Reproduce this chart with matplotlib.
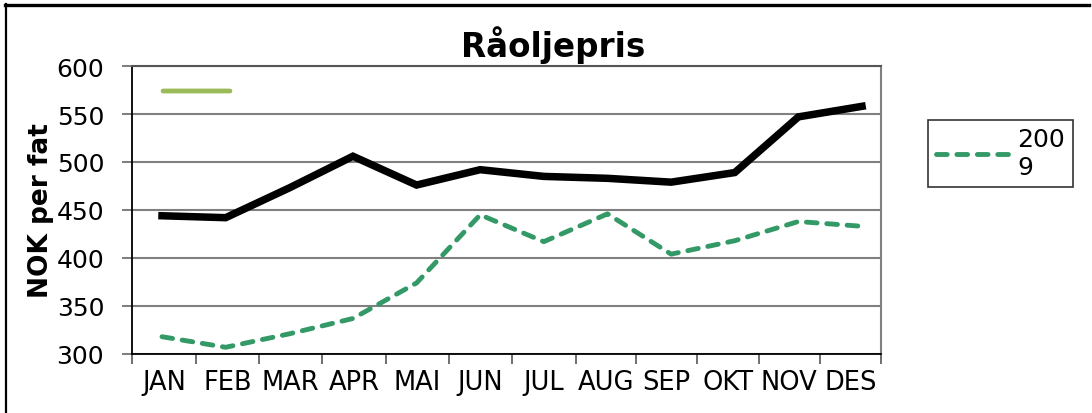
import matplotlib
matplotlib.use("Agg")
import matplotlib.pyplot as plt
from matplotlib.lines import Line2D
import numpy as np

months = ["JAN", "FEB", "MAR", "APR", "MAI", "JUN",
          "JUL", "AUG", "SEP", "OKT", "NOV", "DES"]
pris_2010 = [444, 442, 473, 506, 476, 492, 485, 483, 479, 489, 547, 558]
pris_2009 = [318, 307, 321, 337, 374, 445, 417, 446, 404, 418, 438, 433]

W, H = 1092, 414
fig = plt.figure(figsize=(W / 100, H / 100), dpi=100)
fig.patch.set_facecolor("white")

# plot area in pixels: left 132, right 881, top 67, bottom 355
left, right = 132, 881
ax = fig.add_axes([left / W, 1 - 355 / H, (right - left) / W, (355 - 67) / H])

# month points sit at i + 0.5; the category edges (tick marks) are
# spaced a little unevenly, so they are given in pixels
step, first = 63.64, 162.0
to_data = lambda px: (np.asarray(px) - first) / step + 0.5
edges = to_data([132, 195.7, 259, 322.3, 385.7, 449, 512.3, 575.7,
                 636, 697, 758.7, 819.7, 880.7])

x = np.arange(len(months)) + 0.5
ax.plot(x, pris_2010, color="black", lw=5.4, solid_joinstyle="miter", zorder=3)
line09, = ax.plot(x, pris_2009, color="#339966", lw=3.5, ls=(0, (2.2, 2.0)),
                  dash_capstyle="round", zorder=3)

ax.set_xlim(to_data(left), to_data(right))
ax.set_ylim(300, 600)
ax.set_yticks(np.arange(300, 601, 50))
ax.set_xticks(edges)
ax.set_xticklabels([])
ax.set_xticks((edges[:-1] + edges[1:]) / 2, minor=True)
ax.set_xticklabels(months, minor=True)
ax.tick_params(axis="x", which="minor", length=0, pad=11, labelsize=18.5)
ax.tick_params(axis="x", which="major", length=7, width=1.2, color="#555555")
ax.tick_params(axis="y", length=7, width=1.2, color="#666666", pad=13, labelsize=18)

ax.grid(axis="y", color="#808080", lw=1.5, zorder=0)
ax.spines["left"].set_color("black")
ax.spines["left"].set_linewidth(1.3)
ax.spines["bottom"].set_color("black")
ax.spines["bottom"].set_linewidth(1.3)
ax.spines["right"].set_color("#808080")
ax.spines["right"].set_linewidth(1.5)
ax.spines["top"].set_color("#555555")
ax.spines["top"].set_linewidth(1.5)

ax.set_ylabel("NOK per fat", fontsize=19, fontweight="bold")
ax.yaxis.set_label_coords(-78 / 749, 0.5)
fig.text(553 / W, 1 - 45 / H, "Råoljepris", fontsize=23.5, fontweight="bold",
         ha="center", va="center")

# stray series key left over inside the plot area
key = Line2D([], [], color="#9BBB59", lw=3.2, solid_capstyle="round")
leg_key = ax.legend([key], [""], loc="upper left", frameon=False,
                    bbox_to_anchor=(0.042, 0.94), handlelength=3.4, handletextpad=0,
                    fontsize=14, borderpad=0, borderaxespad=0)
ax.add_artist(leg_key)

leg = fig.legend([line09], ["200\n9"], loc="upper left",
                 bbox_to_anchor=(928 / W, 1 - 121 / H), fontsize=18,
                 frameon=True, fancybox=False, edgecolor="black",
                 handlelength=3.05, handletextpad=0.22, borderpad=0.3,
                 borderaxespad=0, labelspacing=0)
leg.get_frame().set_linewidth(1.2)

# outer chart frame, cut at right and bottom
fig.add_artist(Line2D([5 / W, 1089 / W], [1 - 5.5 / H, 1 - 5.5 / H],
                      color="black", lw=2.4, transform=fig.transFigure))
fig.add_artist(Line2D([5.5 / W, 5.5 / W], [0, 1 - 5 / H],
                      color="black", lw=1.6, transform=fig.transFigure))

fig.savefig("out.png", dpi=100, facecolor="white")
